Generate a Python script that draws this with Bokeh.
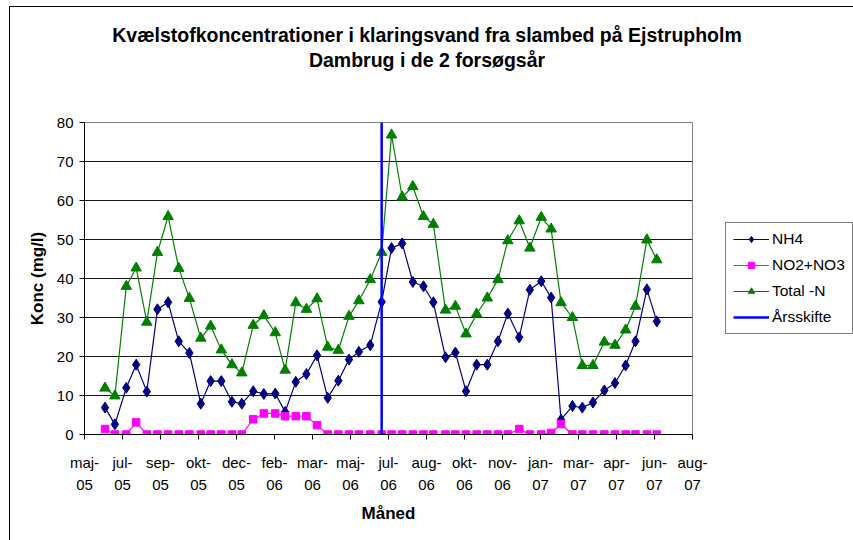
import pandas as pd
from bokeh.plotting import figure
from bokeh.models import (Range1d, FixedTicker, Legend, LegendItem, LinearAxis)
from bokeh.embed import file_html
from bokeh.resources import INLINE

# ---------------- data ----------------
axis_start = "2005-05-28"
tick_step_days = 50
tick_labels = ["maj-05", "jul-05", "sep-05", "okt-05", "dec-05", "feb-06", "mar-06",
               "maj-06", "jul-06", "aug-06", "okt-06", "nov-06", "jan-07", "mar-07",
               "apr-07", "jun-07", "aug-07"]

sample_dates = [
    "2005-06-24", "2005-07-07", "2005-07-22", "2005-08-04", "2005-08-18", "2005-09-01",
    "2005-09-15", "2005-09-29", "2005-10-13", "2005-10-28", "2005-11-10", "2005-11-24",
    "2005-12-08", "2005-12-21", "2006-01-05", "2006-01-19", "2006-02-03", "2006-02-16",
    "2006-03-02", "2006-03-16", "2006-03-30", "2006-04-13", "2006-04-27", "2006-05-11",
    "2006-05-24", "2006-06-08", "2006-06-23", "2006-07-06", "2006-07-20", "2006-08-03",
    "2006-08-17", "2006-08-30", "2006-09-15", "2006-09-28", "2006-10-12", "2006-10-26",
    "2006-11-09", "2006-11-23", "2006-12-06", "2006-12-21", "2007-01-04", "2007-01-19",
    "2007-02-01", "2007-02-14", "2007-03-01", "2007-03-14", "2007-03-28", "2007-04-12",
    "2007-04-26", "2007-05-10", "2007-05-23", "2007-06-07", "2007-06-20",
]

nh4 = [6.9, 2.6, 12.0, 17.9, 11.0, 32.1, 33.9, 23.9, 20.9, 7.9, 13.7, 13.7, 8.4, 7.9,
       11.1, 10.4, 10.5, 5.8, 13.5, 15.5, 20.3, 9.4, 13.8, 19.2, 21.2, 22.9, 34.0, 47.8,
       49.0, 39.1, 38.0, 33.9, 19.8, 21.0, 11.1, 17.9, 17.9, 23.9, 31.0, 24.9, 37.1, 39.3,
       35.1, 3.8, 7.3, 6.9, 8.2, 11.3, 13.2, 17.7, 23.9, 37.2, 29.0]

no2_no3 = [1.4, 0, 0, 3.1, 0, 0, 0, 0, 0, 0, 0, 0, 0, 0,
           3.9, 5.4, 5.4, 4.7, 4.7, 4.7, 2.4, 0, 0, 0, 0, 0, 0, 0,
           0, 0, 0, 0, 0, 0, 0, 0, 0, 0, 0, 1.4, 0, 0,
           0.4, 2.7, 0, 0, 0, 0, 0, 0, 0, 0, 0]

total_n = [11.9, 9.9, 38.0, 42.7, 28.8, 46.7, 55.9, 42.6, 34.9, 24.7, 27.8, 21.7, 17.9, 15.8,
           28.0, 30.5, 26.1, 16.5, 33.8, 32.1, 34.8, 22.4, 21.6, 30.3, 34.3, 39.7, 46.7, 76.8,
           60.9, 63.6, 55.9, 53.9, 31.9, 32.9, 25.8, 30.9, 35.0, 39.7, 49.7, 54.8, 47.8, 55.7,
           52.7, 33.8, 30.0, 17.7, 17.7, 23.7, 22.9, 26.8, 32.9, 49.9, 44.8]

aarsskifte_date = "2006-06-23"
y_min, y_max, y_step = 0, 80, 10

title_line1 = "Kvælstofkoncentrationer i klaringsvand fra slambed på Ejstrupholm"
title_line2 = "Dambrug i de 2 forsøgsår"

# ---------------- layout constants ----------------
FIG_W = 853
FRAME_L, FRAME_W, FRAME_H = 84, 608, 312
BORDER_R = FIG_W - FRAME_L - FRAME_W
BORDER_T, BORDER_B = 122, 106

# ---------------- derived positions ----------------
start = pd.Timestamp(axis_start)
x_days = [(pd.Timestamp(d) - start).days for d in sample_dates]
ticks = [i * tick_step_days for i in range(len(tick_labels))]
aars_x = (pd.Timestamp(aarsskifte_date) - start).days

FONT = "Liberation Sans"

p = figure(frame_width=FRAME_W, frame_height=FRAME_H,
           min_border_left=FRAME_L, min_border_right=BORDER_R,
           min_border_top=BORDER_T, min_border_bottom=BORDER_B,
           x_range=Range1d(ticks[0], ticks[-1]),
           y_range=Range1d(y_min, y_max),
           output_backend="svg", toolbar_location=None,
           background_fill_color="white", border_fill_color="white",
           border_fill_alpha=0)
# outer chart-area border (left and top edges visible in the reference)
p.styles = {
    "background-color": "white",
    "background-image": "linear-gradient(#000, #000), linear-gradient(#000, #000)",
    "background-size": "1px 100%, 100% 1px",
    "background-position": "9px 6px, 9px 6px",
    "background-repeat": "no-repeat",
}

p.outline_line_color = "#808080"
p.outline_line_width = 1
p.title.visible = False

# bottom (month) axis and left axis
xax = p.below[0]
yax = p.left[0]
xax.ticker = FixedTicker(ticks=ticks)
xax.major_label_overrides = {t: lab.replace("-", "-\n") for t, lab in zip(ticks, tick_labels)}
yax.ticker = FixedTicker(ticks=list(range(y_min, y_max + 1, y_step)))
for ax in (xax, yax):
    ax.minor_tick_line_color = None
    ax.axis_line_color = "black"
    ax.axis_line_width = 1
    ax.major_tick_line_color = "black"
    ax.major_tick_in = 0
    ax.major_tick_out = 5
    ax.major_label_text_font = FONT
    ax.major_label_text_font_size = "15px"
    ax.major_label_text_color = "black"
    ax.axis_label_text_font = FONT
    ax.axis_label_text_font_style = "bold"
    ax.axis_label_text_font_size = "17px"
    ax.axis_label_text_color = "black"
xax.major_label_text_line_height = 1.33
xax.major_label_standoff = 14
xax.axis_label = "Måned"
xax.axis_label_standoff = 8
yax.major_label_standoff = 6
yax.axis_label = "Konc (mg/l)"
yax.axis_label_standoff = 7

# chart title: two centred lines, centred on the whole chart area
p.extra_x_ranges = {"chartpx": Range1d(FRAME_L, FRAME_L + FRAME_W)}
title_pos = FIG_W / 2
title_axis = LinearAxis(x_range_name="chartpx",
                        ticker=FixedTicker(ticks=[title_pos]),
                        major_label_overrides={title_pos: title_line1 + "\n" + title_line2},
                        axis_line_color=None, major_tick_line_color=None,
                        minor_tick_line_color=None, major_tick_in=0, major_tick_out=0,
                        minor_tick_in=0, minor_tick_out=0,
                        major_label_standoff=52,
                        major_label_text_font=FONT, major_label_text_font_size="19.5px",
                        major_label_text_font_style="bold", major_label_text_color="black",
                        major_label_text_line_height=1.1)
p.add_layout(title_axis, "above")

p.xgrid.grid_line_color = None
p.ygrid.grid_line_color = "#1a1a1a"
p.ygrid.grid_line_width = 1

# series
l1 = p.line(x_days, nh4, line_color="#000080", line_width=1.2)
m1 = p.scatter(x_days, nh4, marker="diamond", size=11, fill_color="#000080", line_color="#000080")
l2 = p.line(x_days, no2_no3, line_color="#FF00FF", line_width=1.2)
m2 = p.scatter(x_days, no2_no3, marker="square", size=7.5, fill_color="#FF00FF", line_color="#FF00FF")
l3 = p.line(x_days, total_n, line_color="#008000", line_width=1.2)
m3 = p.scatter(x_days, total_n, marker="triangle", size=10.5, fill_color="#008000", line_color="#008000")
l4 = p.segment(x0=[aars_x], y0=[y_min], x1=[aars_x], y1=[y_max], line_color="#0000FF", line_width=2.5)

legend = Legend(items=[
    LegendItem(label="NH4", renderers=[l1, m1]),
    LegendItem(label="NO2+NO3", renderers=[l2, m2]),
    LegendItem(label="Total -N", renderers=[l3, m3]),
    LegendItem(label="Årsskifte", renderers=[l4]),
], location="center_left")
legend.label_text_font = FONT
legend.label_text_font_size = "15.5px"
legend.label_text_color = "black"
legend.glyph_width = 36
legend.glyph_height = 16
legend.label_height = 16
legend.spacing = 8
legend.padding = 7
legend.margin = 33
legend.label_standoff = 3
legend.border_line_color = "black"
legend.border_line_width = 1
legend.background_fill_color = "white"
legend.background_fill_alpha = 1
p.add_layout(legend, "right")

open("out.html", "w").write(file_html(p, INLINE))
